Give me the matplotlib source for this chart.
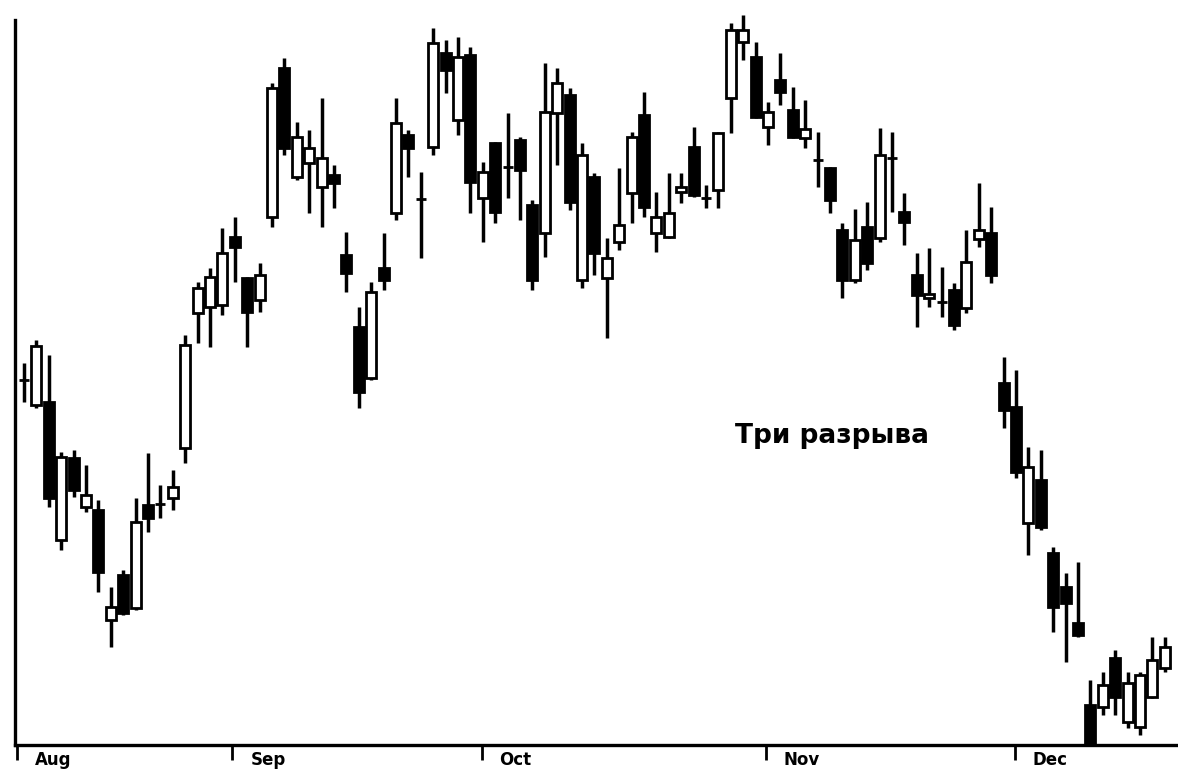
import matplotlib
matplotlib.use("Agg")
import matplotlib.pyplot as plt
from matplotlib.patches import Rectangle
from matplotlib.transforms import blended_transform_factory

# ---- data (arbitrary price units) ----
opens = [420, 395, 398, 260, 342, 293, 290, 180, 225, 192, 295, 296, 302, 352,
         487, 493, 495, 563, 522, 500, 583, 732, 623, 637, 613, 625, 545, 473,
         422, 532, 587, 665, 601, 653, 747, 680, 745, 602, 657, 633, 660, 595,
         567, 687, 705, 520, 623, 522, 558, 607, 685, 567, 563, 608, 653, 602,
         610, 702, 758, 743, 673, 720, 690, 662, 640, 632, 570, 520, 573, 562,
         642, 588, 525, 502, 498, 510, 492, 561, 567, 417, 393, 277, 320, 247,
         213, 177, 95, 93, 142, 78, 73, 103, 132]
highs = [437, 460, 445, 348, 350, 335, 300, 213, 230, 302, 347, 315, 330, 465,
         518, 532, 572, 583, 523, 537, 717, 742, 678, 670, 702, 635, 568, 493,
         518, 567, 702, 670, 628, 772, 760, 763, 753, 638, 658, 687, 663, 600,
         737, 732, 712, 657, 627, 562, 632, 668, 708, 608, 627, 627, 673, 615,
         668, 777, 785, 758, 698, 747, 713, 700, 668, 633, 577, 591, 598, 672,
         668, 607, 547, 552, 533, 517, 570, 617, 593, 443, 430, 353, 350, 253,
         227, 238, 120, 128, 150, 128, 128, 163, 163]
lows = [398, 392, 293, 250, 303, 288, 208, 153, 185, 190, 268, 282, 290, 337,
        457, 453, 485, 518, 453, 488, 573, 645, 620, 587, 573, 592, 508, 392,
        420, 510, 580, 623, 542, 645, 707, 665, 587, 558, 577, 602, 580, 510,
        543, 635, 590, 512, 525, 462, 550, 577, 583, 548, 562, 597, 603, 592,
        592, 667, 740, 682, 655, 695, 662, 652, 613, 587, 502, 517, 530, 558,
        588, 555, 473, 493, 483, 470, 487, 553, 517, 372, 322, 245, 270, 168,
        138, 163, 50, 85, 85, 72, 65, 102, 128]
closes = [420, 454, 302, 343, 310, 305, 228, 193, 187, 278, 282, 296, 313, 455,
          512, 523, 547, 553, 488, 525, 712, 652, 663, 652, 642, 617, 527, 408,
          508, 520, 677, 652, 601, 757, 730, 743, 618, 628, 588, 633, 630, 520,
          688, 717, 598, 645, 547, 542, 575, 663, 593, 583, 587, 613, 605, 602,
          667, 770, 770, 683, 688, 708, 663, 671, 640, 600, 520, 560, 537, 645,
          642, 578, 505, 506, 498, 475, 538, 570, 525, 390, 328, 333, 273, 193,
          197, 165, 55, 115, 103, 117, 125, 140, 153]

month_labels = ["Aug", "Sep", "Oct", "Nov", "Dec"]
month_starts = [-0.56, 16.8, 36.9, 59.8, 79.9]   # positions in trading-day index

annotation = "Три разрыва"

# ---- figure ----
fig = plt.figure(figsize=(11.78, 7.71), dpi=100)
ax = fig.add_axes([0.0127, 0.0337, 0.9873, 0.9507])

body_w = 0.8
for i, (o, h, l, c) in enumerate(zip(opens, highs, lows, closes)):
    ax.plot([i, i], [l, h], color="black", lw=2.5, solid_capstyle="butt", zorder=2)
    up = c > o
    bottom = min(o, c)
    height = abs(c - o)
    rect = Rectangle((i - body_w / 2, bottom), body_w, height,
                     facecolor="white" if up else "black",
                     edgecolor="black", lw=2.0, zorder=3)
    ax.add_patch(rect)

ax.set_xlim(-0.73, 93.06)
ax.set_ylim(55, 788)

for s in ["top", "right"]:
    ax.spines[s].set_visible(False)
ax.spines["left"].set_linewidth(2.4)
ax.spines["bottom"].set_linewidth(2.4)
ax.spines["left"].set_bounds(55, 780)

ax.set_yticks([])
ax.set_xticks(month_starts)
ax.set_xticklabels([])
ax.tick_params(axis="x", direction="out", length=11, width=2, color="black")

trans = blended_transform_factory(ax.transData, ax.transAxes)
for pos, lab in zip(month_starts, month_labels):
    ax.text(pos + 1.45, -0.021, lab, transform=trans, ha="left", va="center",
            fontsize=12, fontweight="heavy", family="DejaVu Sans", color="black")

ax.text(57.3, 357, annotation, ha="left", va="baseline", fontsize=19,
        fontweight="bold", family="DejaVu Sans", color="black")

fig.savefig("out.png", dpi=100)
